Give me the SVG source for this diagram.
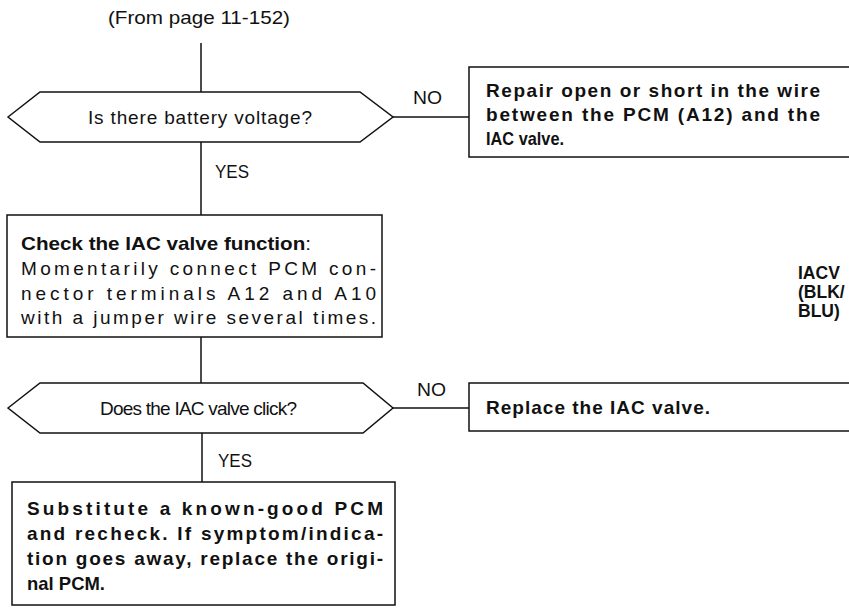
<svg xmlns="http://www.w3.org/2000/svg" width="849" height="614" viewBox="0 0 849 614">
<style>
.bg{fill:#fff}
.shape{fill:#fff;stroke:#111;stroke-width:1.5}
.wire{fill:none;stroke:#111;stroke-width:1.5}
.t{font-family:"Liberation Sans",Arial,sans-serif;font-size:19px;fill:#111}
.b{font-weight:bold}
.lbl{font-family:"Liberation Sans",Arial,sans-serif;font-size:17.5px;font-weight:bold;fill:#111}
</style>
<rect class="bg" x="0" y="0" width="849" height="614"/>
<text class="t" x="108" y="24" textLength="182" lengthAdjust="spacingAndGlyphs">(From page 11-152)</text>
<g id="connectors">
<line class="wire" x1="201" y1="43" x2="201" y2="92"/>
<line class="wire" x1="201" y1="142" x2="201" y2="215"/>
<line class="wire" x1="393" y1="117" x2="469" y2="117"/>
<line class="wire" x1="201" y1="337" x2="201" y2="383"/>
<line class="wire" x1="393" y1="408" x2="469" y2="408"/>
<line class="wire" x1="202" y1="433" x2="202" y2="482"/>
<text class="t" x="413" y="104" textLength="29" lengthAdjust="spacingAndGlyphs">NO</text>
<text class="t" x="215" y="178" textLength="34" lengthAdjust="spacingAndGlyphs">YES</text>
<text class="t" x="417" y="396" textLength="29" lengthAdjust="spacingAndGlyphs">NO</text>
<text class="t" x="218" y="467" textLength="34" lengthAdjust="spacingAndGlyphs">YES</text>
</g>
<g id="q1">
<polygon class="shape" points="8,117 40,92 360,92 393,117 360,142 40,142"/>
<text class="t" x="88" y="124" textLength="224" lengthAdjust="spacing">Is there battery voltage?</text>
</g>
<g id="repair">
<rect class="shape" x="469" y="67" width="400" height="90"/>
<text class="t b" x="486" y="97" textLength="334" lengthAdjust="spacing">Repair open or short in the wire</text>
<text class="t b" x="486" y="121" textLength="334" lengthAdjust="spacing">between the PCM (A12) and the</text>
<text class="t b" x="486" y="145" textLength="78" lengthAdjust="spacingAndGlyphs">IAC valve.</text>
</g>
<g id="check">
<rect class="shape" x="7" y="215" width="375" height="122"/>
<text class="t" x="21" y="250" textLength="290" lengthAdjust="spacingAndGlyphs"><tspan class="b">Check the IAC valve function</tspan>:</text>
<text class="t" x="21" y="275" textLength="355" lengthAdjust="spacing">Momentarily connect PCM con-</text>
<text class="t" x="21" y="300" textLength="355" lengthAdjust="spacing">nector terminals A12 and A10</text>
<text class="t" x="21" y="324" textLength="355" lengthAdjust="spacing">with a jumper wire several times.</text>
</g>
<g id="label">
<text class="lbl" x="798" y="279">IACV</text>
<text class="lbl" x="798" y="298">(BLK/</text>
<text class="lbl" x="798" y="317">BLU)</text>
</g>
<g id="q2">
<polygon class="shape" points="8,408 40,383 363,383 393,408 363,433 40,433"/>
<text class="t" x="100" y="415" textLength="197" lengthAdjust="spacing">Does the IAC valve click?</text>
</g>
<g id="replace">
<rect class="shape" x="469" y="383" width="400" height="48"/>
<text class="t b" x="486" y="414" textLength="224" lengthAdjust="spacing">Replace the IAC valve.</text>
</g>
<g id="substitute">
<rect class="shape" x="12" y="482" width="383" height="123"/>
<text class="t b" x="27" y="515" textLength="356" lengthAdjust="spacing">Substitute a known-good PCM</text>
<text class="t b" x="27" y="540" textLength="356" lengthAdjust="spacing">and recheck. If symptom/indica-</text>
<text class="t b" x="27" y="565" textLength="356" lengthAdjust="spacing">tion goes away, replace the origi-</text>
<text class="t b" x="27" y="590" textLength="78" lengthAdjust="spacingAndGlyphs">nal PCM.</text>
</g>
</svg>
